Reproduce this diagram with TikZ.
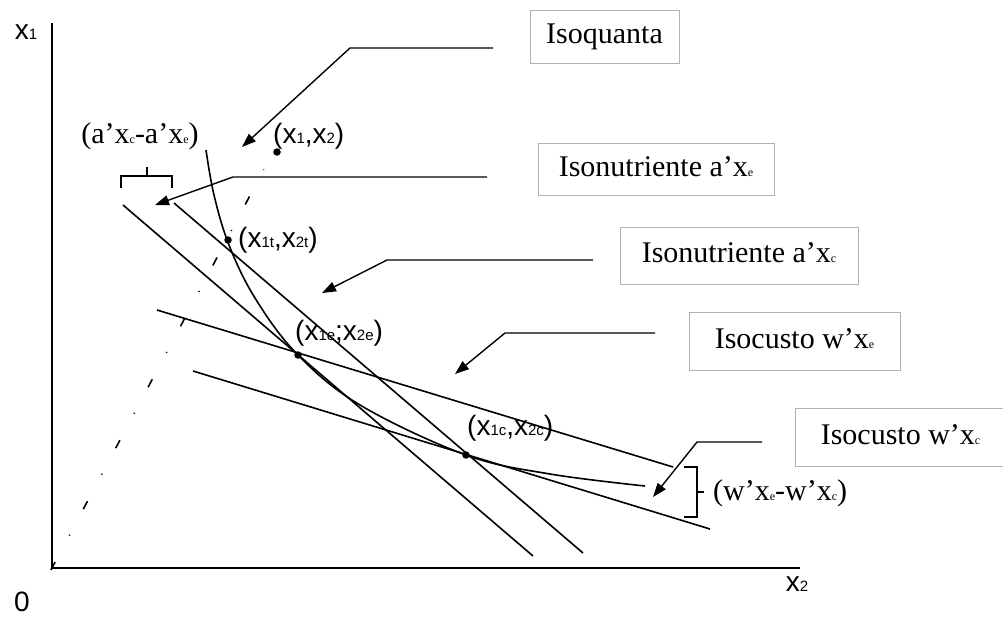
\documentclass[tikz,border=0pt]{standalone}
\usepackage{fontspec}
\setmainfont{Liberation Serif}
\setsansfont{Liberation Sans}
\usetikzlibrary{arrows.meta}
\newcommand{\ssb}[1]{{\fontsize{15}{15}\selectfont #1}}
\newcommand{\rsb}[1]{{\fontsize{12}{12}\selectfont #1}}

\begin{document}
\begin{tikzpicture}[x=1pt,y=-1pt,
    box/.style={draw=gray!60,line width=0.7pt,font=\fontsize{30}{34}\selectfont,
      text height=21pt,text depth=7pt,inner sep=0pt},
    lbl/.style={font=\sffamily\fontsize{28}{32}\selectfont,inner sep=0pt},
    rlbl/.style={font=\fontsize{30}{34}\selectfont,inner sep=0pt},
    curve/.style={line width=1.6pt},
    callout/.style={line width=1.4pt,-{Triangle[length=14pt,width=10pt]}},
    dot/.style={circle,fill,inner sep=0pt,minimum size=7.5pt}]
  \useasboundingbox (0,0) rectangle (1003,616);
  % axes
  \draw[line width=2.2pt] (52,23) -- (52,568) -- (800,568);
  \node[lbl] (xone) at (26,32) {x\ssb{1}};
  \node[lbl] (xtwo) at (797,584) {x\ssb{2}};
  \node[lbl] (orig) at (22,602) {0};
  % ray from the origin
  \draw[line width=1.6pt,dash pattern=on 9pt off 30pt on 1pt off 29pt]
    (50.9,570) -- (263.8,169.6);
  % isonutrientes
  \draw[curve] (123,205) -- (533,556);
  \draw[curve] (174,203) -- (583,553);
  % isocustos
  \draw[curve] (157,310) -- (673,467);
  \draw[curve] (193,371) -- (710,529);
  % isoquanta
  \draw[curve] plot[smooth,tension=0.6] coordinates {(206,150) (214,195) (229,245)
    (255,298) (297,354) (360,405) (466,455) (550,474) (645,486)};
  % points
  \node[dot] (p) at (277,152) {};
  \node[dot] (pt) at (228,240) {};
  \node[dot] (pe) at (298,355) {};
  \node[dot] (pc) at (466,455) {};
  \node[lbl,anchor=west] (lp) at (273,136) {(x\ssb{1},x\ssb{2})};
  \node[lbl,anchor=west] (lpt) at (238,240) {(x\ssb{1t},x\ssb{2t})};
  \node[lbl,anchor=west] (lpe) at (295,333) {(x\ssb{1e};x\ssb{2e})};
  \node[lbl,anchor=west] (lpc) at (467,428) {(x\ssb{1c},x\ssb{2c})};
  % brackets
  \draw[line width=1.2pt] (121,188) -- (121,176) -- (172,176) -- (172,188);
  \draw[line width=1.2pt] (147,176) -- (147,167);
  \node[rlbl] (da) at (140,136) {(a’x\rsb{c}-a’x\rsb{e})};
  \draw[line width=1.2pt] (684,467) -- (697,467) -- (697,517) -- (684,517);
  \draw[line width=1.2pt] (697,492) -- (704,492);
  \node[rlbl,anchor=west] (dw) at (713,493) {(w’x\rsb{e}-w’x\rsb{c})};
  % boxes
  \node[box,minimum width=149pt,minimum height=53pt] (isoq) at (604.5,36.5) {Isoquanta};
  \node[box,minimum width=236pt,minimum height=52pt] (nutA) at (656,169) {Isonutriente a’x\rsb{e}};
  \node[box,minimum width=238pt,minimum height=57pt] (nutB) at (739,255.5) {Isonutriente a’x\rsb{c}};
  \node[box,minimum width=211pt,minimum height=58pt] (custA) at (794.5,341) {Isocusto w’x\rsb{e}};
  \node[box,minimum width=211pt,minimum height=58pt] (custB) at (900.5,437) {Isocusto w’x\rsb{c}};
  % callouts
  \coordinate (q1) at (493,48);  \coordinate (q2) at (350,48);  \coordinate (qt) at (242,147);
  \coordinate (a1) at (487,177); \coordinate (a2) at (233,177); \coordinate (at) at (155,205);
  \coordinate (b1) at (593,260); \coordinate (b2) at (387,260); \coordinate (bt) at (322,293);
  \coordinate (c1) at (655,333); \coordinate (c2) at (505,333); \coordinate (ct) at (455,374);
  \coordinate (d1) at (762,442); \coordinate (d2) at (697,442); \coordinate (dt) at (653,497);
  \draw[callout] (q1) -- (q2) -- (qt);
  \draw[callout] (a1) -- (a2) -- (at);
  \draw[callout] (b1) -- (b2) -- (bt);
  \draw[callout] (c1) -- (c2) -- (ct);
  \draw[callout] (d1) -- (d2) -- (dt);
\end{tikzpicture}
\end{document}
